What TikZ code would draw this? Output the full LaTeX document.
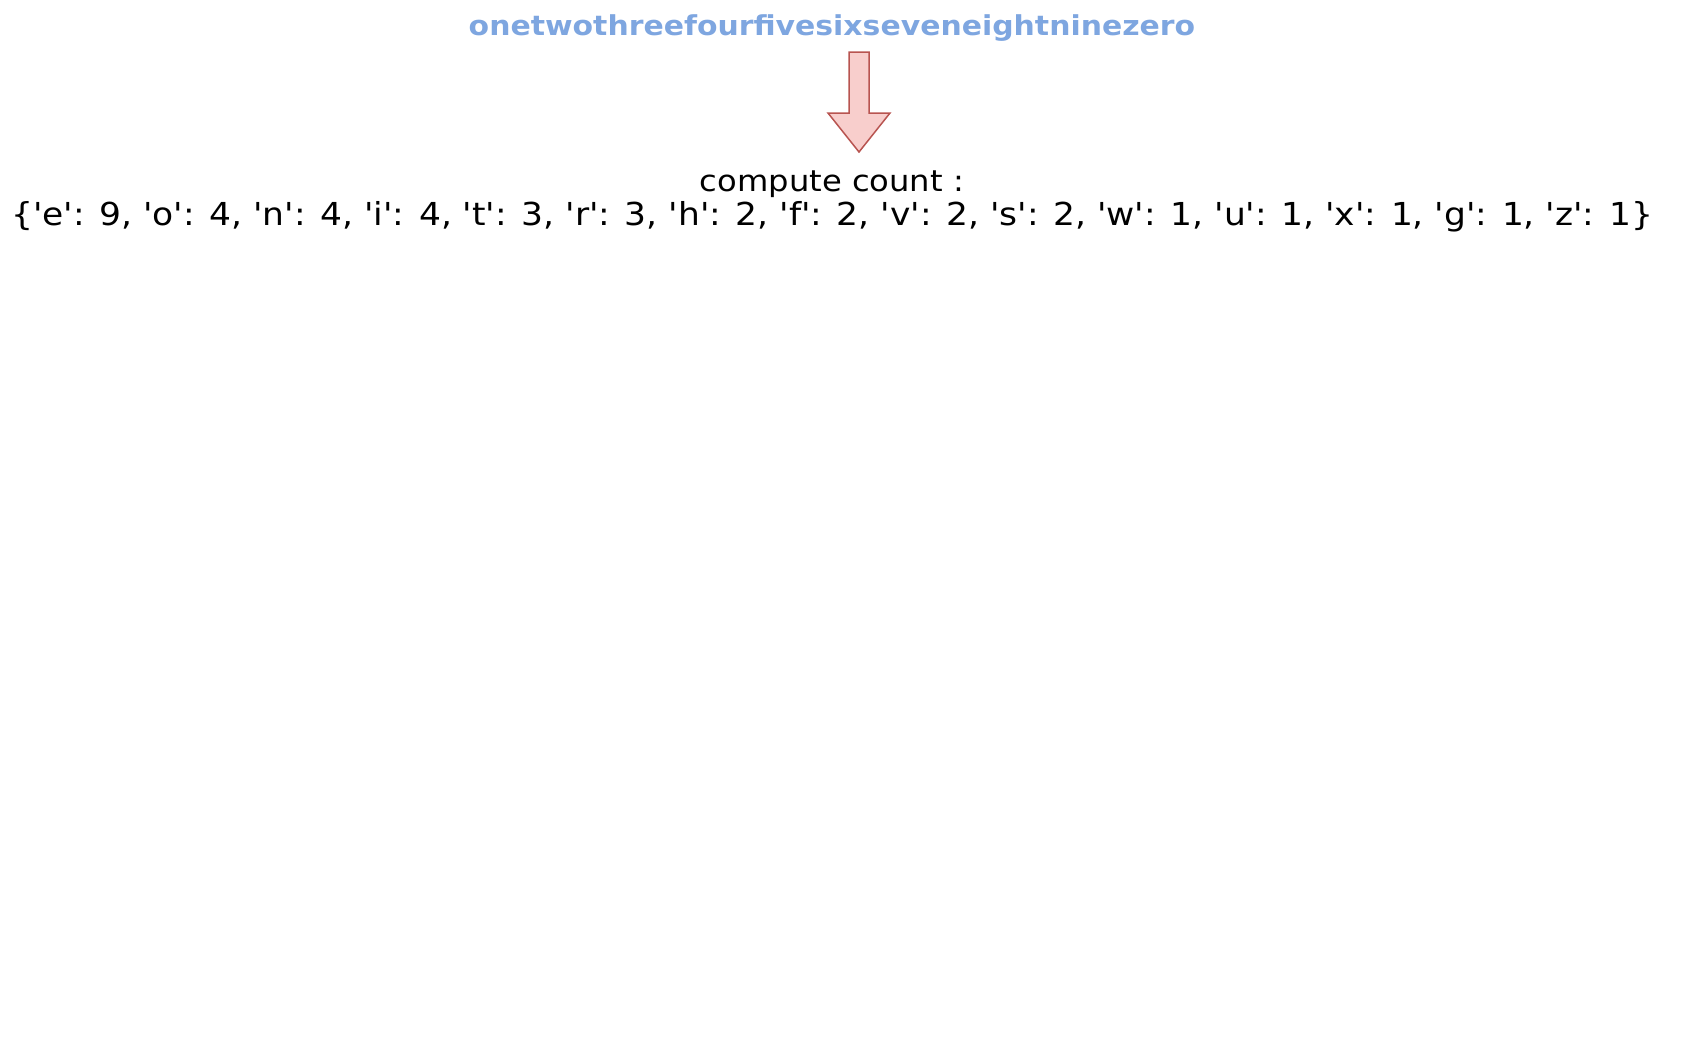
\documentclass[tikz,border=0pt]{standalone}
\usepackage{fontspec}
\setmainfont{DejaVu Sans}[Ligatures=TeXOff, FakeStretch=1.09]
\definecolor{inputblue}{HTML}{7EA6E0}
\definecolor{arrowfill}{HTML}{F8CECC}
\definecolor{arrowline}{HTML}{B85450}
\begin{document}
\begin{tikzpicture}[x=0.1mm, y=-0.1mm, every node/.style={inner sep=0pt, anchor=base}]
    % Canvas, same size as the page.
    \useasboundingbox (0,0) rectangle (1690,1058);

    % Input string at the top.
    \node[text=inputblue, font=\fontsize{7.8}{9}\selectfont\bfseries] (word) at (832,35)
        {onetwothreefourfivesixseveneightninezero};

    % Block arrow pointing down.
    \def\xa{859}
    \draw[fill=arrowfill, draw=arrowline, line width=0.15mm, line join=miter]
        (\xa-10,52) -- (\xa+10,52) -- (\xa+10,113) -- (\xa+31,113)
        -- (\xa,152) -- (\xa-31,113) -- (\xa-10,113) -- cycle;

    % Result of the count.
    \node[font=\fontsize{8.4}{10}\selectfont] (title) at (832,191) {compute count :};
    \node[font=\fontsize{9}{11}\selectfont] (counts) at (832,225)
        {\{'e': 9, 'o': 4, 'n': 4, 'i': 4, 't': 3, 'r': 3, 'h': 2, 'f': 2, 'v': 2, 's': 2, 'w': 1, 'u': 1, 'x': 1, 'g': 1, 'z': 1\}};
\end{tikzpicture}
\end{document}
